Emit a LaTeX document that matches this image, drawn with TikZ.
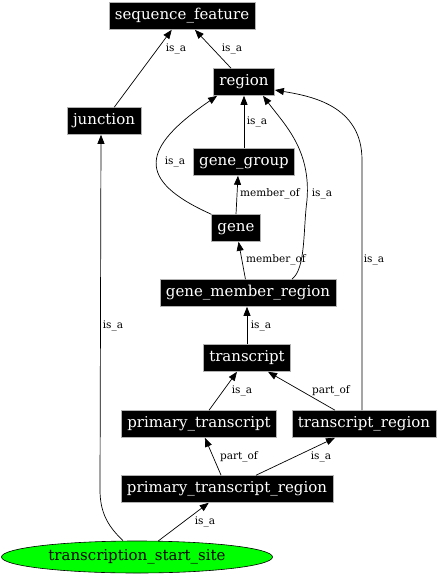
\documentclass[tikz,border=0pt]{standalone}
\usepackage{fontspec}
\setmainfont{DejaVu Serif}
\usetikzlibrary{arrows.meta,shapes.geometric}

\begin{document}
\begin{tikzpicture}[x=1pt,y=-1pt]
  \tikzset{term/.style={fill=black,draw=gray!60,line width=0.6pt,text=white,font=\fontsize{15}{18}\selectfont,
      minimum height=27pt,inner xsep=6pt,inner ysep=0pt,text height=11pt,text depth=3.5pt},
    site/.style={ellipse,fill=green,draw=black,line width=0.6pt,font=\fontsize{15}{18}\selectfont,
      minimum width=271pt,minimum height=32pt,inner sep=0pt},
    rel/.style={draw=black,line width=0.7pt,-{Triangle[length=9pt,width=7pt]}},
    lbl/.style={font=\fontsize{10.5}{12}\selectfont,inner sep=0pt}}
  \useasboundingbox (0,0) rectangle (439,576);
  \node[term] (sequence_feature) at (182,16) {sequence\_feature};
  \node[term] (region) at (244,82) {region};
  \node[term] (junction) at (104,121) {junction};
  \node[term] (gene_group) at (244,162) {gene\_group};
  \node[term] (gene) at (236,228) {gene};
  \node[term] (gene_member_region) at (248,293) {gene\_member\_region};
  \node[term] (transcript) at (247,358) {transcript};
  \node[term] (primary_transcript) at (199,424) {primary\_transcript};
  \node[term] (transcript_region) at (364,424) {transcript\_region};
  \node[term] (primary_transcript_region) at (227,489) {primary\_transcript\_region};
  \node[site] (transcription_start_site) at (137,557) {transcription\_start\_site};
  \draw[rel] (junction) -- (sequence_feature) node[lbl] at (176,49) {is\_a};
  \draw[rel] (region) -- (sequence_feature) node[lbl] at (232,49) {is\_a};
  \draw[rel] (gene_group) -- (region) node[lbl] at (257,122) {is\_a};
  \draw[rel] (gene.north west) .. controls (135,180) and (141,148) .. ([xshift=4pt]region.south west)
    node[lbl] at (175,162) {is\_a};
  \draw[rel] (gene.north) -- ([xshift=-6pt]gene_group.south) node[lbl] at (270,194) {member\_of};
  \draw[rel] ([xshift=44pt]gene_member_region.north) .. controls (306,268) and (303,230) .. (307,200)
    .. controls (311,150) and (285,125) .. ([xshift=19pt]region.south) node[lbl] at (322,194) {is\_a};
  \draw[rel] (gene_member_region) -- (gene) node[lbl] at (276,260) {member\_of};
  \draw[rel] ([xshift=-2pt]transcript_region.north) -- (362,160) .. controls (362,105) and (310,96)
    .. ([yshift=-8pt]region.east) node[lbl] at (374,260) {is\_a};
  \draw[rel] ([xshift=-14pt]transcription_start_site.north) .. controls (110,528) and (100,515) .. (100,490)
    -- ([xshift=-3pt]junction.south) node[lbl] at (113,326) {is\_a};
  \draw[rel] (transcript) -- (transcript |- gene_member_region.south) node[lbl] at (261,326) {is\_a};
  \draw[rel] (primary_transcript) -- (transcript) node[lbl] at (242,391) {is\_a};
  \draw[rel] ([xshift=-29pt]transcript_region.north) -- ([xshift=21pt]transcript.south)
    node[lbl] at (331,391) {part\_of};
  \draw[rel] (primary_transcript_region) -- (primary_transcript) node[lbl] at (239,457) {part\_of};
  \draw[rel] (primary_transcript_region) -- (transcript_region) node[lbl] at (321,457) {is\_a};
  \draw[rel] (transcription_start_site) -- (primary_transcript_region) node[lbl] at (205,522) {is\_a};
\end{tikzpicture}
\end{document}
